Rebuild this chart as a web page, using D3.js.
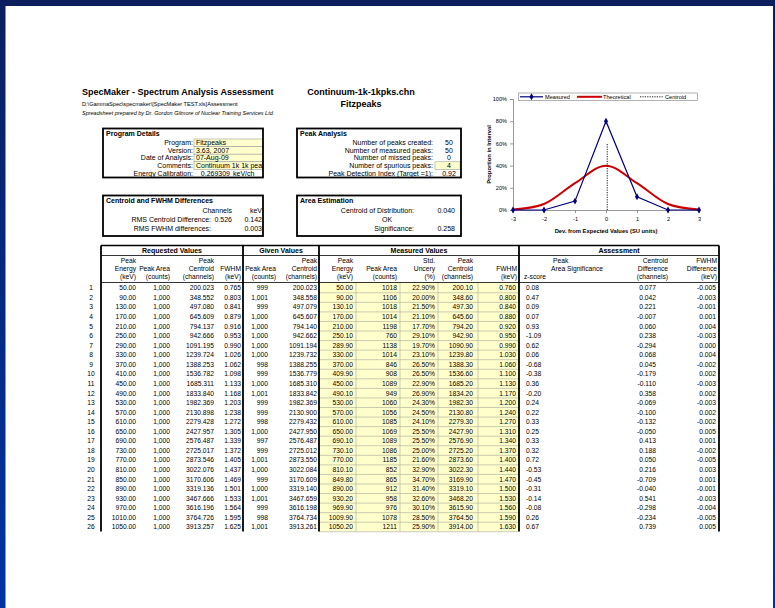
<!DOCTYPE html>
<html>
<head>
<meta charset="utf-8">
<style>
body { margin: 0; background: #fff; }
svg text { font-family: "Liberation Sans", Arial, sans-serif; fill: #000; }
.b { font-weight: bold; }
</style>
</head>
<body>
<svg id="page" width="775" height="608"></svg>
<script src="https://cdn.jsdelivr.net/npm/d3@7"></script>
<script>
// ---- data ----
var rowNo = [1,2,3,4,5,6,7,8,9,10,11,12,13,14,15,16,17,18,19,20,21,22,23,24,25,26];
var reqEnergy = [50,90,130,170,210,250,290,330,370,410,450,490,530,570,610,650,690,730,770,810,850,890,930,970,1010,1050];
var reqArea = [1000,1000,1000,1000,1000,1000,1000,1000,1000,1000,1000,1000,1000,1000,1000,1000,1000,1000,1000,1000,1000,1000,1000,1000,1000,1000];
var reqCentroid = [200.023,348.552,497.080,645.609,794.137,942.666,1091.195,1239.724,1388.253,1536.782,1685.311,1833.840,1982.369,2130.898,2279.428,2427.957,2576.487,2725.017,2873.546,3022.076,3170.606,3319.136,3467.666,3616.196,3764.726,3913.257];
var reqFwhm = [0.765,0.803,0.841,0.879,0.916,0.953,0.990,1.026,1.062,1.098,1.133,1.168,1.203,1.238,1.272,1.305,1.339,1.372,1.405,1.437,1.469,1.501,1.533,1.564,1.595,1.625];
var givArea = [999,1001,999,1000,1000,1000,1000,1000,998,999,1000,1001,999,999,998,1000,997,999,1001,1000,999,1000,1001,999,998,1001];
var givCentroid = [200.023,348.558,497.079,645.607,794.140,942.662,1091.194,1239.732,1388.255,1536.779,1685.310,1833.842,1982.369,2130.900,2279.432,2427.950,2576.487,2725.012,2873.550,3022.084,3170.609,3319.140,3467.659,3616.198,3764.734,3913.261];
var meaEnergy = [50.00,90.00,130.10,170.00,210.00,250.10,289.90,330.00,370.00,409.90,450.00,490.10,530.00,570.00,610.00,650.00,690.10,730.10,770.00,810.10,849.80,890.00,930.20,969.90,1009.90,1050.20];
var meaArea = [1018,1106,1018,1014,1198,760,1138,1014,846,908,1089,949,1060,1056,1085,1069,1089,1086,1185,852,865,912,958,976,1078,1211];
var meaUnc = [22.90,20.00,21.50,21.10,17.70,29.10,19.70,23.10,26.50,26.50,22.90,26.90,24.30,24.50,24.10,25.50,25.50,25.00,21.60,32.90,34.70,31.40,32.60,30.10,28.50,25.90];
var meaCentroid = [200.10,348.60,497.30,645.60,794.20,942.90,1090.90,1239.80,1388.30,1536.60,1685.20,1834.20,1982.30,2130.80,2279.30,2427.90,2576.90,2725.20,2873.60,3022.30,3169.90,3319.10,3468.20,3615.90,3764.50,3914.00];
var meaFwhm = [0.760,0.800,0.840,0.880,0.920,0.950,0.990,1.030,1.060,1.100,1.130,1.170,1.200,1.240,1.270,1.310,1.340,1.370,1.400,1.440,1.470,1.500,1.530,1.560,1.590,1.630];
var zScore = [0.08,0.47,0.09,0.07,0.93,-1.09,0.62,0.06,-0.68,-0.38,0.36,-0.20,0.24,0.22,0.33,0.25,0.33,0.32,0.72,-0.53,-0.45,-0.31,-0.14,-0.08,0.26,0.67];
var centroidDiff = [0.077,0.042,0.221,-0.007,0.060,0.238,-0.294,0.068,0.045,-0.179,-0.110,0.358,-0.069,-0.100,-0.132,-0.050,0.413,0.188,0.050,0.216,-0.709,-0.040,0.541,-0.298,-0.234,0.739];
var fwhmDiff = [-0.005,-0.003,-0.001,0.001,0.004,-0.003,0.000,0.004,-0.002,0.002,-0.003,0.002,-0.003,0.002,-0.002,0.005,0.001,-0.002,-0.005,0.003,0.001,-0.001,-0.003,-0.004,-0.005,0.005];

// chart series
var devUnits = [-3,-2,-1,0,1,2,3];
var measuredPct = [0,0,8,80,12,0,0];
var theoreticalPct = [0.4,5.4,24.2,39.9,24.2,5.4,0.4];
var centroidDev = 0.04;
var centroidTop = 60;
var yTicks = [0,20,40,60,80,100];

var programLabels = ["Program:","Version:","Date of Analysis:","Comments:"];
var programValues = ["Fitzpeaks","3.63, 2007","07-Aug-09","Continuum 1k 1k peaks"];
var peakLabels = ["Number of peaks created:","Number of measured peaks:","Number of missed peaks:","Number of spurious peaks:","Peak Detection Index (Target =1):"];
var peakValues = ["50","50","0","4","0.92"];

var svg = d3.select("#page");

// spreadsheet style: plain hyphen for negatives
var loc = d3.formatLocale({decimal: ".", thousands: ",", grouping: [3], currency: ["", ""], minus: "-"});

// ---- window frame ----
var grad = svg.append("defs").append("linearGradient").attr("id","side").attr("x1",0).attr("y1",0).attr("x2",0).attr("y2",1);
grad.append("stop").attr("offset","0%").attr("stop-color","#0b1f60");
grad.append("stop").attr("offset","100%").attr("stop-color","#0034a2");
svg.append("rect").attr("x",0).attr("y",0).attr("width",5.5).attr("height",608).attr("fill","url(#side)");
svg.append("rect").attr("x",773).attr("y",0).attr("width",2).attr("height",608).attr("fill","url(#side)");
svg.append("rect").attr("x",0).attr("y",0).attr("width",775).attr("height",6).attr("fill","#0b1f5e");

function txt(g, x, y, s, size, anchor, cls) {
    return g.append("text").attr("x",x).attr("y",y).attr("dy","0.35em")
        .attr("text-anchor",anchor || "start").attr("class",cls || null)
        .style("font-size",size + "px").text(s);
}

// ---- headings ----
txt(svg, 82, 91.5, "SpecMaker - Spectrum Analysis Assessment", 9, "start", "b");
txt(svg, 82, 104, "D:\\GammaSpec\\specmaker\\[SpecMaker TEST.xls]Assessment", 5.6);
txt(svg, 82, 113, "Spreadsheet prepared by Dr. Gordon Gilmore of Nuclear Training Services Ltd.", 5.5).style("font-style","italic");
txt(svg, 361, 91.5, "Continuum-1k-1kpks.chn", 9, "middle", "b");
txt(svg, 361, 104, "Fitzpeaks", 9, "middle", "b");

// ---- info boxes ----
var infoRows = [142.8, 150.4, 158, 165.6, 173.2];
var fs = 7;

var clip = svg.append("defs").append("clipPath").attr("id","progclip");
clip.append("rect").attr("x",103).attr("y",128).attr("width",160).attr("height",49);

// Program Details
var pg = svg.append("g");
programLabels.forEach(function (d, i) {
    pg.append("rect").attr("x",194).attr("y",infoRows[i]-3.8).attr("width",69).attr("height",7.6)
        .attr("fill","#ffffcc").attr("stroke","#a0a0a0").attr("stroke-width",0.6);
});
var pgc = pg.append("g").attr("clip-path","url(#progclip)");
programLabels.forEach(function (d, i) {
    txt(pg, 193, infoRows[i], d, fs, "end");
    txt(pgc, 196, infoRows[i], programValues[i], fs);
});
txt(pg, 193, infoRows[4], "Energy Calibration:", fs, "end");
txt(pg, 230, infoRows[4], "0.269309", fs, "end");
txt(pg, 233, infoRows[4], "keV/ch", fs);
txt(pg, 106, 133.3, "Program Details", fs, "start", "b");
pg.append("rect").attr("x",103).attr("y",128.5).attr("width",160).attr("height",49)
    .attr("fill","none").attr("stroke","#000").attr("stroke-width",1.8);

// Peak Analysis
var pa = svg.append("g");
pa.append("rect").attr("x",435).attr("y",infoRows[3]-3.8).attr("width",25).attr("height",7.6)
    .attr("fill","#ffffcc").attr("stroke","#a0a0a0").attr("stroke-width",0.6);
peakLabels.forEach(function (d, i) {
    txt(pa, 433, infoRows[i], d, fs, "end");
    txt(pa, 449, infoRows[i], peakValues[i], fs, "middle");
});
txt(pa, 300, 133.3, "Peak Analysis", fs, "start", "b");
pa.append("rect").attr("x",297).attr("y",128.5).attr("width",164).attr("height",49)
    .attr("fill","none").attr("stroke","#000").attr("stroke-width",1.8);

// Centroid and FWHM Differences
var cf = svg.append("g");
txt(cf, 106, 200.5, "Centroid and FWHM Differences", fs, "start", "b");
txt(cf, 232, 210.5, "Channels", fs, "end");
txt(cf, 262, 210.5, "keV", fs, "end");
txt(cf, 211, 219.5, "RMS Centroid Difference:", fs, "end");
txt(cf, 232, 219.5, "0.526", fs, "end");
txt(cf, 262, 219.5, "0.142", fs, "end");
txt(cf, 211, 228.5, "RMS FWHM differences:", fs, "end");
txt(cf, 262, 228.5, "0.003", fs, "end");
cf.append("rect").attr("x",103).attr("y",195.5).attr("width",160).attr("height",40.5)
    .attr("fill","none").attr("stroke","#000").attr("stroke-width",1.8);

// Area Estimation
var ae = svg.append("g");
txt(ae, 300, 200.5, "Area Estimation", fs, "start", "b");
txt(ae, 414, 210.5, "Centroid of Distribution:", fs, "end");
txt(ae, 455, 210.5, "0.040", fs, "end");
txt(ae, 387, 219.5, "OK", fs, "middle");
txt(ae, 414, 228.5, "Significance:", fs, "end");
txt(ae, 455, 228.5, "0.258", fs, "end");
ae.append("rect").attr("x",297).attr("y",195.5).attr("width",164).attr("height",40.5)
    .attr("fill","none").attr("stroke","#000").attr("stroke-width",1.8);

// ---- chart ----
var x = d3.scaleLinear().domain([-3, 3]).range([513, 699]);
var y = d3.scaleLinear().domain([0, 100]).range([210, 99]);
var ch = svg.append("g");

var yAxis = ch.append("g").attr("transform","translate(513,0)")
    .call(d3.axisLeft(y).tickValues(yTicks).tickSize(3).tickFormat(function (d) { return d + "%"; }));
var xAxis = ch.append("g").attr("transform","translate(0,210)")
    .call(d3.axisBottom(x).tickValues(devUnits).tickSize(3).tickFormat(loc.format("d")));
[yAxis, xAxis].forEach(function (a) {
    a.selectAll("path,line").attr("stroke","#808080").attr("stroke-width",0.8);
    a.selectAll("text").style("font-size","5.6px").attr("fill","#000");
});
xAxis.selectAll("text").attr("dy","0.9em");

txt(ch, 606, 231, "Dev. from Expected Values (SU units)", 5.8, "middle", "b");
ch.append("text").attr("class","b").attr("transform","translate(489,154.5) rotate(-90)")
    .attr("text-anchor","middle").attr("dy","0.35em").style("font-size","5.8px").text("Proportion in Interval");

// theoretical
ch.append("path").datum(devUnits)
    .attr("d", d3.line().x(function (d) { return x(d); })
        .y(function (d, i) { return y(theoreticalPct[i]); }).curve(d3.curveCatmullRom.alpha(0.5)))
    .attr("fill","none").attr("stroke","#cc0000").attr("stroke-width",2);
// measured
ch.append("path").datum(devUnits)
    .attr("d", d3.line().x(function (d) { return x(d); }).y(function (d, i) { return y(measuredPct[i]); }))
    .attr("fill","none").attr("stroke","#000080").attr("stroke-width",1.2);
ch.selectAll(".mk").data(devUnits).enter().append("path")
    .attr("d", d3.symbol(d3.symbolDiamond, 14))
    .attr("transform", function (d, i) { return "translate(" + x(d) + "," + y(measuredPct[i]) + ")"; })
    .attr("fill","#000080");
// centroid
ch.append("line").attr("x1",x(centroidDev)).attr("x2",x(centroidDev))
    .attr("y1",y(0)).attr("y2",y(centroidTop))
    .attr("stroke","#000").attr("stroke-width",0.9).attr("stroke-dasharray","1.2,1.2");

// legend
var lg = ch.append("g");
lg.append("rect").attr("x",518.5).attr("y",93).attr("width",179).attr("height",7.5)
    .attr("fill","#fff").attr("stroke","#808080").attr("stroke-width",0.6);
lg.append("line").attr("x1",520).attr("x2",543).attr("y1",96.8).attr("y2",96.8).attr("stroke","#000080").attr("stroke-width",1.2);
lg.append("path").attr("d", d3.symbol(d3.symbolDiamond, 14)).attr("transform","translate(531.5,96.8)").attr("fill","#000080");
txt(lg, 545, 96.8, "Measured", 5.6);
lg.append("line").attr("x1",577).attr("x2",602).attr("y1",96.8).attr("y2",96.8).attr("stroke","#cc0000").attr("stroke-width",2);
txt(lg, 603, 96.8, "Theoretical", 5.6);
lg.append("line").attr("x1",640).attr("x2",663).attr("y1",96.8).attr("y2",96.8).attr("stroke","#000").attr("stroke-width",0.9).attr("stroke-dasharray","1.2,1.2");
txt(lg, 665, 96.8, "Centroid", 5.6);

// ---- results table ----
var rowY = d3.scaleLinear().domain([1, 26]).range([288, 527]);
var tbl = svg.append("g");
var tTop = 245.5, tBot = 531.5, hdrBot = 282.5;
var tL = 101, tR = 719;
var tf = 6.7;

// yellow measured block with grid
var mCols = [319, 356, 400, 438, 478, 519];
tbl.append("rect").attr("x",mCols[0]).attr("y",hdrBot).attr("width",mCols[5] - mCols[0]).attr("height",tBot - hdrBot).attr("fill","#ffffcc");
rowNo.forEach(function (r) {
    tbl.append("line").attr("x1",mCols[0]).attr("x2",mCols[5]).attr("y1",rowY(r) + 4.78).attr("y2",rowY(r) + 4.78)
        .attr("stroke","#b4b4a0").attr("stroke-width",0.7);
});
mCols.slice(1, 5).forEach(function (c) {
    tbl.append("line").attr("x1",c).attr("x2",c).attr("y1",hdrBot).attr("y2",tBot)
        .attr("stroke","#b4b4a0").attr("stroke-width",0.7);
});

var groups = [
    {name: "Requested Values", x0: tL, x1: 243},
    {name: "Given Values", x0: 243, x1: 319},
    {name: "Measured Values", x0: 319, x1: 519},
    {name: "Assessment", x0: 519, x1: tR}
];
groups.forEach(function (g) { txt(tbl, (g.x0 + g.x1) / 2, 250.5, g.name, 7, "middle", "b"); });

var hdrY = [260.5, 268.5, 276.5];
var f2 = loc.format(".2f"), f3 = loc.format(".3f"), fc = loc.format(",");
var cols = [
    {h: ["Peak","Energy","(keV)"], hx: 136, x: 136, v: reqEnergy, f: f2},
    {h: ["","Peak Area","(counts)"], hx: 170, x: 170, v: reqArea, f: fc},
    {h: ["Peak","Centroid","(channels)"], hx: 214, x: 214, v: reqCentroid, f: f3},
    {h: ["","FWHM","(keV)"], hx: 241, x: 241, v: reqFwhm, f: f3},
    {h: ["","Peak Area","(counts)"], hx: 276, x: 268, v: givArea, f: fc},
    {h: ["Peak","Centroid","(channels)"], hx: 317, x: 317, v: givCentroid, f: f3},
    {h: ["Peak","Energy","(keV)"], hx: 353, x: 353, v: meaEnergy, f: f2},
    {h: ["","Peak Area","(counts)"], hx: 397, x: 397, v: meaArea, f: loc.format("d")},
    {h: ["Std.","Uncery","(%)"], hx: 435, x: 435, v: meaUnc, f: function (d) { return f2(d) + "%"; }},
    {h: ["Peak","Centroid","(channels)"], hx: 473, x: 473, v: meaCentroid, f: f2},
    {h: ["","FWHM","(keV)"], hx: 517, x: 516, v: meaFwhm, f: f3},
    {h: ["Centroid","Difference","(channels)"], hx: 668, x: 656, v: centroidDiff, f: f3},
    {h: ["FWHM","Difference","(keV)"], hx: 717, x: 716, v: fwhmDiff, f: f3}
];
cols.forEach(function (c) {
    c.h.forEach(function (s, k) { if (s) txt(tbl, c.hx, hdrY[k], s, tf, "end"); });
    c.v.forEach(function (d, i) { txt(tbl, c.x, rowY(rowNo[i]), c.f(d), tf, "end"); });
});
// z-score column (left aligned)
txt(tbl, 553, hdrY[0], "Peak", tf);
txt(tbl, 551, hdrY[1], "Area Significance", tf);
txt(tbl, 524, hdrY[2], "z-score", tf);
zScore.forEach(function (d, i) { txt(tbl, 526, rowY(rowNo[i]), f2(d), tf); });
// row numbers
rowNo.forEach(function (r) { txt(tbl, 91, rowY(r), r, tf, "middle"); });

// rules
tbl.append("line").attr("x1",tL).attr("x2",tR).attr("y1",tTop).attr("y2",tTop).attr("stroke","#000").attr("stroke-width",1.6);
tbl.append("line").attr("x1",tL).attr("x2",tR).attr("y1",255.5).attr("y2",255.5).attr("stroke","#000").attr("stroke-width",0.8);
tbl.append("line").attr("x1",tL).attr("x2",tR).attr("y1",hdrBot).attr("y2",hdrBot).attr("stroke","#000").attr("stroke-width",0.8);
[tL, 243, 319, 519, tR].forEach(function (c) {
    tbl.append("line").attr("x1",c).attr("x2",c).attr("y1",tTop).attr("y2",tBot)
        .attr("stroke","#000").attr("stroke-width",1.8);
});
</script>
</body>
</html>
